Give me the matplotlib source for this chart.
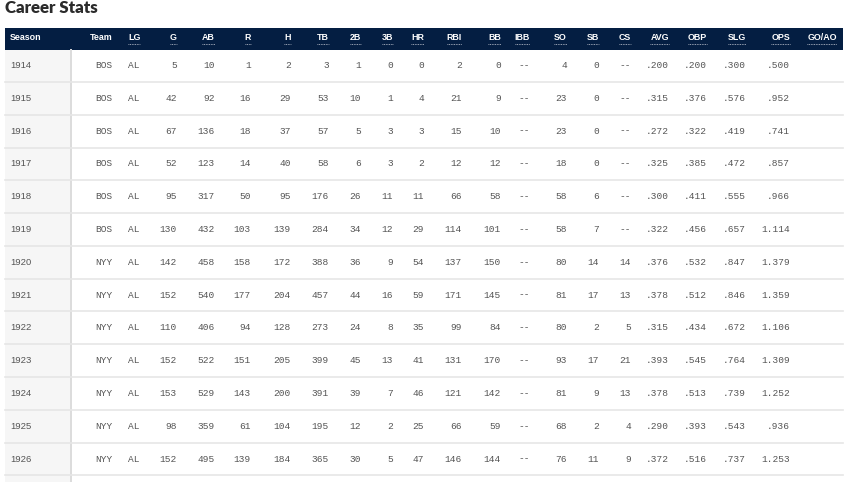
import matplotlib
matplotlib.use('Agg')
import matplotlib.pyplot as plt
from matplotlib.patches import Rectangle

# career stats, one list per column
seasons = [1914, 1915, 1916, 1917, 1918, 1919, 1920, 1921, 1922, 1923, 1924, 1925, 1926]
teams = ['BOS', 'BOS', 'BOS', 'BOS', 'BOS', 'BOS', 'NYY', 'NYY', 'NYY', 'NYY', 'NYY', 'NYY', 'NYY']
leagues = ['AL'] * 13
games = [5, 42, 67, 52, 95, 130, 142, 152, 110, 152, 153, 98, 152]
at_bats = [10, 92, 136, 123, 317, 432, 458, 540, 406, 522, 529, 359, 495]
runs = [1, 16, 18, 14, 50, 103, 158, 177, 94, 151, 143, 61, 139]
hits = [2, 29, 37, 40, 95, 139, 172, 204, 128, 205, 200, 104, 184]
total_bases = [3, 53, 57, 58, 176, 284, 388, 457, 273, 399, 391, 195, 365]
doubles = [1, 10, 5, 6, 26, 34, 36, 44, 24, 45, 39, 12, 30]
triples = [0, 1, 3, 3, 11, 12, 9, 16, 8, 13, 7, 2, 5]
home_runs = [0, 4, 3, 2, 11, 29, 54, 59, 35, 41, 46, 25, 47]
rbi = [2, 21, 15, 12, 66, 114, 137, 171, 99, 131, 121, 66, 146]
walks = [0, 9, 10, 12, 58, 101, 150, 145, 84, 170, 142, 59, 144]
intentional_walks = [None] * 13
strikeouts = [4, 23, 23, 18, 58, 58, 80, 81, 80, 93, 81, 68, 76]
stolen_bases = [0, 0, 0, 0, 6, 7, 14, 17, 2, 17, 9, 2, 11]
caught_stealing = [None, None, None, None, None, None, 14, 13, 5, 21, 13, 4, 9]
avg = [.200, .315, .272, .325, .300, .322, .376, .378, .315, .393, .378, .290, .372]
obp = [.200, .376, .322, .385, .411, .456, .532, .512, .434, .545, .513, .393, .516]
slg = [.300, .576, .419, .472, .555, .657, .847, .846, .672, .764, .739, .543, .737]
ops = [.500, .952, .741, .857, .966, 1.114, 1.379, 1.359, 1.106, 1.309, 1.252, .936, 1.253]
go_ao = [None] * 13

NAVY = '#041e42'
TEXT = '#555555'


def fmt_count(v):
    return '--' if v is None else str(v)


def fmt_rate(v):
    return '' if v is None else f'{v:.3f}'.lstrip('0')


# (header, x position, alignment, underlined, values, formatter)
columns = [
    ('Season', 10, 'left', False, seasons, str),
    ('Team', 113, 'right', False, teams, str),
    ('LG', 128, 'left', True, leagues, str),
    ('G', 177, 'right', True, games, fmt_count),
    ('AB', 215, 'right', True, at_bats, fmt_count),
    ('R', 251, 'right', True, runs, fmt_count),
    ('H', 291, 'right', True, hits, fmt_count),
    ('TB', 329, 'right', True, total_bases, fmt_count),
    ('2B', 361, 'right', True, doubles, fmt_count),
    ('3B', 393, 'right', True, triples, fmt_count),
    ('HR', 424, 'right', True, home_runs, fmt_count),
    ('RBI', 462, 'right', True, rbi, fmt_count),
    ('BB', 501, 'right', True, walks, fmt_count),
    ('IBB', 530, 'right', True, intentional_walks, fmt_count),
    ('SO', 567, 'right', True, strikeouts, fmt_count),
    ('SB', 599, 'right', True, stolen_bases, fmt_count),
    ('CS', 631, 'right', True, caught_stealing, fmt_count),
    ('AVG', 669, 'right', True, avg, fmt_rate),
    ('OBP', 707, 'right', True, obp, fmt_rate),
    ('SLG', 746, 'right', True, slg, fmt_rate),
    ('OPS', 790, 'right', True, ops, fmt_rate),
    ('GO/AO', 837, 'right', True, go_ao, fmt_rate),
]

W, H = 850, 482
fig = plt.figure(figsize=(W / 100, H / 100), dpi=100)
ax = fig.add_axes([0, 0, 1, 1])
ax.set_xlim(0, W)
ax.set_ylim(H, 0)
ax.axis('off')

left, right = 5, 843
head_top, head_bot = 27.5, 49.5
row_y0, pitch = 65.5, 32.8

ax.text(5, 8, 'Career Stats', fontsize=12.2, fontweight='heavy', color='#2b2b2b',
        family='Lato', va='center', ha='left')

# header band and season column background
ax.add_patch(Rectangle((left, head_top), right - left, head_bot - head_top,
                       color=NAVY, lw=0, zorder=1))
ax.add_patch(Rectangle((left, head_bot), 71 - left, H - head_bot,
                       color='#f6f6f6', lw=0, zorder=0))
ax.plot([71.5, 71.5], [head_bot, H], color='#dcdcdc', lw=1.4, zorder=2)

for i in range(len(seasons)):
    y = row_y0 + i * pitch + pitch / 2
    ax.plot([left, right], [y, y], color='#e6e6e6', lw=1.2, zorder=2)

header_texts = []
for name, x, ha, underline, values, fmt in columns:
    t = ax.text(x, 38, name, fontsize=6.4, fontweight='bold', color='white',
                family='Liberation Sans', ha=ha, va='center', zorder=3)
    if underline:
        header_texts.append(t)
    for i, v in enumerate(values):
        y = row_y0 + i * pitch
        if name == 'Season':
            ax.text(x, y, fmt(v), fontsize=6.8, color=TEXT, family='Liberation Sans',
                    ha=ha, va='center', zorder=3)
        else:
            ax.text(x, y, fmt(v), fontsize=6.8, color=TEXT, family='Liberation Mono',
                    ha=ha, va='center', zorder=3)

# dotted underline below the sortable headers
fig.canvas.draw()
renderer = fig.canvas.get_renderer()
inv = ax.transData.inverted()
for t in header_texts:
    bb = t.get_window_extent(renderer)
    (x0, _), (x1, _) = inv.transform([(bb.x0, bb.y0), (bb.x1, bb.y1)])
    ax.plot([x0, x1], [43.5, 43.5], color='#c8ccd6', lw=0.6,
            linestyle=(0, (1, 1)), zorder=3)

fig.savefig('out.png', dpi=100)
